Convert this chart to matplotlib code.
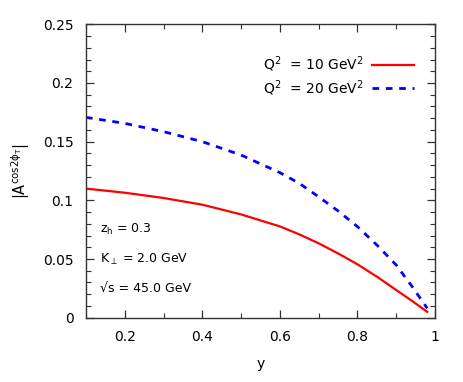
import matplotlib
matplotlib.use("Agg")
import matplotlib.pyplot as plt
from matplotlib.ticker import MultipleLocator, FuncFormatter

plt.rcParams['font.family'] = ['DejaVu Sans']
plt.rcParams['mathtext.fontset'] = 'dejavusans'
plt.rcParams['mathtext.default'] = 'regular'

y_q10 = [0.10, 0.20, 0.30, 0.40, 0.50, 0.60, 0.65, 0.70, 0.75, 0.80, 0.85, 0.90, 0.94, 0.98]
a_q10 = [0.110, 0.1065, 0.102, 0.0963, 0.088, 0.0778, 0.071, 0.0634, 0.0548, 0.0455, 0.035, 0.0236, 0.0145, 0.005]
y_q20 = [0.10, 0.20, 0.30, 0.40, 0.50, 0.60, 0.65, 0.70, 0.75, 0.80, 0.85, 0.90, 0.94, 0.98]
a_q20 = [0.1707, 0.1656, 0.1585, 0.150, 0.1386, 0.1236, 0.1145, 0.103, 0.091, 0.0776, 0.062, 0.0449, 0.027, 0.008]
labels = [r'Q$^2$  = 10 GeV$^2$', r'Q$^2$  = 20 GeV$^2$']
notes = [r'z$_h$ = 0.3', r'K$_\perp$ = 2.0 GeV', '\u221as = 45.0 GeV']

fig = plt.figure(figsize=(4.63, 3.82), dpi=100)
ax = fig.add_axes([0.1857, 0.1683, 0.9395 - 0.1857, 0.9364 - 0.1683])

ax.plot(y_q10, a_q10, color='#ff0000', lw=1.6, label=labels[0])
ax.plot(y_q20, a_q20, color='#0000ff', lw=2.0, dashes=(2.4, 2.4), label=labels[1])

ax.set_xlim(0.1, 1.0)
ax.set_ylim(0, 0.25)
ax.xaxis.set_major_locator(MultipleLocator(0.2))
ax.xaxis.set_minor_locator(MultipleLocator(0.1))
ax.yaxis.set_major_locator(MultipleLocator(0.05))
ax.yaxis.set_minor_locator(MultipleLocator(0.01))
fmt = FuncFormatter(lambda v, p: ('%g' % round(v, 4)))
ax.xaxis.set_major_formatter(fmt)
ax.yaxis.set_major_formatter(fmt)
ax.tick_params(which='both', direction='in', top=True, right=True, color='#333333')
ax.tick_params(which='major', length=6, width=0.9, labelsize=10, pad=9)
ax.tick_params(which='minor', length=3.5, width=0.8)
for s in ax.spines.values():
    s.set_linewidth(1.0)
    s.set_color('#333333')

ax.set_xlabel('y', fontsize=10, labelpad=9)
ax.set_ylabel(r'|A$^{\mathrm{cos2}\phi_T}$|', fontsize=10.5, labelpad=8)

ax.legend(loc='upper right', frameon=False, markerfirst=False, fontsize=10,
          handlelength=3.0, bbox_to_anchor=(0.975, 0.94), labelspacing=0.3, handletextpad=0.6)

for i, t in enumerate(notes):
    ax.text(0.04, 0.30 - i * 0.1, t, transform=ax.transAxes, fontsize=9, va='center')

fig.savefig('out.png', dpi=100)
